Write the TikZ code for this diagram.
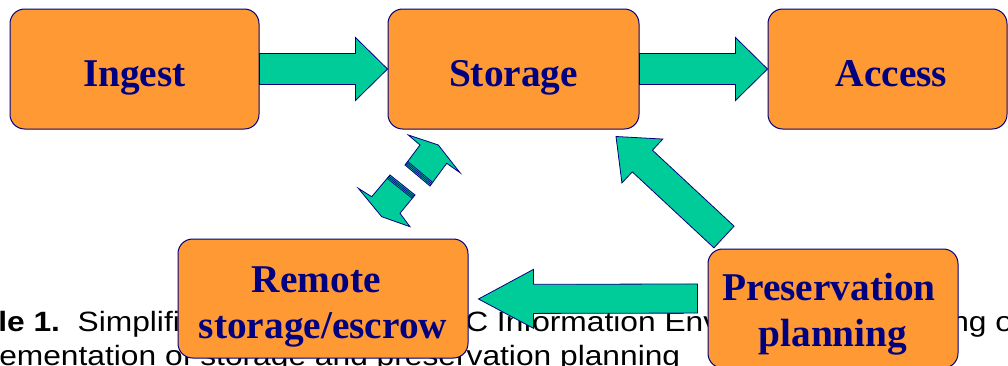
\documentclass[tikz,border=0pt]{standalone}
\usepackage{fontspec}
\setmainfont{Liberation Serif}
\newfontfamily\capfont{Liberation Sans}
\usetikzlibrary{calc}

\definecolor{boxorange}{RGB}{255,153,51}
\definecolor{edgenavy}{RGB}{0,0,128}
\definecolor{flowgreen}{RGB}{0,204,153}

\tikzset{
  stage/.style={draw=edgenavy, line width=0.75pt, fill=boxorange, rounded corners=11pt,
    inner sep=0pt, text=edgenavy, align=center,
    font=\fontsize{29.5}{34.5}\selectfont\bfseries},
  flow/.style={draw=edgenavy, line width=0.6pt, fill=flowgreen, line join=miter},
  note/.style={anchor=base west, inner sep=0pt, font=\capfont\fontsize{23.8}{28}\selectfont}
}

% block arrow: tail, tip, shaft half width, head half width, head length
\newcommand\blockarrow[5]{%
  \coordinate (ba-n) at ($(#2)!#5!(#1)$);
  \draw[flow] ($(#1)!#3!90:(#2)$) -- ($(ba-n)!#3!90:(#2)$) -- ($(ba-n)!#4!90:(#2)$)
    -- (#2) -- ($(ba-n)!#4!-90:(#2)$) -- ($(ba-n)!#3!-90:(#2)$) -- ($(#1)!#3!-90:(#2)$) -- cycle;
}

\begin{document}
\begin{tikzpicture}[x=0.75pt,y=0.75pt,yscale=-1,xscale=1]
\useasboundingbox (0,0) rectangle (1008,365);

% caption text behind the chart
\node[note] (capa) at (-2,331.5) {\scalebox{1}[0.88]{\textbf{le 1.}\ \ Simplifi}};
\node[note] (capb) at (465,331.5) {\scalebox{1}[0.88]{C Information Env}};
\node[note] (capc) at (951,331.5) {\scalebox{1}[0.88]{ng o}};
\node[note] (capd) at (-1,365.5) {\scalebox{1}[0.88]{ementation of storage and preservation planning}};

% boxes
\node[stage, minimum width=186.75pt, minimum height=90pt, text height=25.5pt, text depth=0pt] (ingest) at (134.5,69) {Ingest};
\node[stage, minimum width=188.25pt, minimum height=90pt, text height=25.5pt, text depth=0pt] (storage) at (513.5,69) {Storage};
\node[stage, minimum width=179.25pt, minimum height=90pt, text height=25.5pt, text depth=0pt] (access) at (887.5,69) {\hspace*{6pt}Access};
\node[stage, minimum width=217.5pt, minimum height=89.25pt, text height=59.25pt, text depth=0pt] (remote) at (323,298.5) {Remote\hspace*{10pt}\\storage/escrow};
\node[stage, minimum width=187.5pt, minimum height=89.25pt, text height=57.3pt, text depth=0pt] (preserve) at (833,308.5) {Preservation\hspace*{6pt}\\planning};

% arrows
\blockarrow{ingest.east}{storage.west}{11.6pt}{23.6pt}{24pt}
\blockarrow{storage.east}{access.west}{11.6pt}{23.6pt}{24pt}

\coordinate (pp-tail) at ($(preserve.north west)+(16.5,-11.5)$);
\coordinate (st-tip) at ($(storage.south)+(102.5,7)$);
\blockarrow{pp-tail}{st-tip}{11.1pt}{22.5pt}{27pt}

\coordinate (rs-tail) at ($(preserve.west)+(-10,-10)$);
\coordinate (rs-tip) at ($(remote.east)+(10,0.5)$);
\blockarrow{rs-tail}{rs-tip}{10.9pt}{22.1pt}{41.25pt}

% tilted two-way arrow between storage and remote
\draw[flow] (408.3,135) -- (438.3,145) -- (460,172.7) -- (446.7,163.3) -- (430,186) -- (405,165) -- (420,145) -- cycle;
\draw[edgenavy, line width=0.5pt] (405.9,163.8) -- (430.9,184.8) (406.8,162.6) -- (431.8,183.6) (407.7,161.4) -- (432.7,182.4);
\draw[flow] (358.3,188.3) -- (381.7,216.7) -- (410,226.7) -- (400,213.3) -- (415,195) -- (390,175) -- (371.7,196.7) -- cycle;
\draw[edgenavy, line width=0.5pt] (389.0,176.2) -- (414.0,196.2) (388.1,177.3) -- (413.1,197.3) (387.2,178.4) -- (412.2,198.4);
\end{tikzpicture}
\end{document}
